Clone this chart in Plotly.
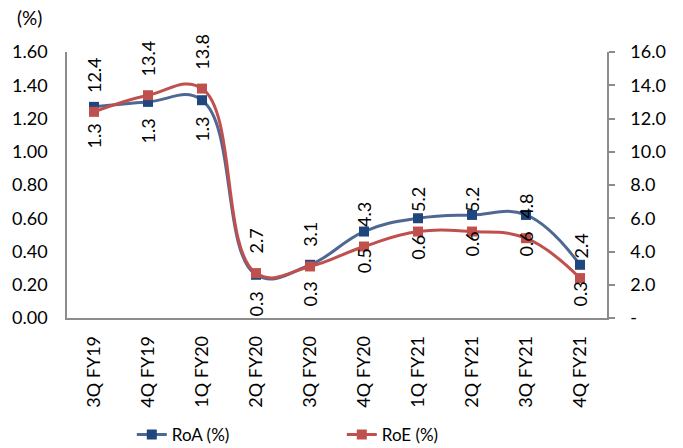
import plotly.graph_objects as go

quarters = ["3Q FY19", "4Q FY19", "1Q FY20", "2Q FY20", "3Q FY20",
            "4Q FY20", "1Q FY21", "2Q FY21", "3Q FY21", "4Q FY21"]
roa = [1.27, 1.30, 1.31, 0.26, 0.32, 0.52, 0.60, 0.62, 0.62, 0.32]
roe = [12.4, 13.4, 13.8, 2.7, 3.1, 4.3, 5.2, 5.2, 4.8, 2.4]

left_ticks = [0.0, 0.2, 0.4, 0.6, 0.8, 1.0, 1.2, 1.4, 1.6]
right_ticks = [0, 2, 4, 6, 8, 10, 12, 14, 16]
right_tick_text = ["-", "2.0", "4.0", "6.0", "8.0", "10.0", "12.0", "14.0", "16.0"]

FONT = "Lato"
LABEL_SIZE = 18
AXIS_GREY = "#8c8c8c"
ROA_LINE, ROA_MARK = "#4f6793", "#1f477d"
ROE_LINE, ROE_MARK = "#c0504d", "#c0504d"


def label_length(text, size=LABEL_SIZE):
    # rough rendered length of a numeric label set in Lato
    digits = sum(ch.isdigit() for ch in text)
    return size * (0.58 * digits + 0.24 * (len(text) - digits))


fig = go.Figure()
fig.add_trace(go.Scatter(
    x=quarters, y=roa, name="RoA (%)", mode="lines+markers",
    line=dict(color=ROA_LINE, width=3, shape="spline", smoothing=1.2),
    marker=dict(symbol="square", size=10, color=ROA_MARK),
    yaxis="y"))
fig.add_trace(go.Scatter(
    x=quarters, y=roe, name="RoE (%)", mode="lines+markers",
    line=dict(color=ROE_LINE, width=3, shape="spline", smoothing=1.2),
    marker=dict(symbol="square", size=10, color=ROE_MARK),
    yaxis="y2"))

annotations = []
for q, a, e in zip(quarters, roa, roe):
    a_txt, e_txt = f"{a:.1f}", f"{e:.1f}"
    # RoA labels sit below their points, RoE labels above
    annotations.append(dict(
        x=q, y=a, xref="x", yref="y", text=a_txt, textangle=-90,
        showarrow=False, yanchor="middle",
        yshift=-(17 + label_length(a_txt) / 2),
        font=dict(family=FONT, size=LABEL_SIZE, color="#000000")))
    annotations.append(dict(
        x=q, y=e, xref="x", yref="y2", text=e_txt, textangle=-90,
        showarrow=False, yanchor="middle",
        yshift=19 + label_length(e_txt) / 2,
        font=dict(family=FONT, size=LABEL_SIZE, color="#000000")))
annotations.append(dict(
    x=-52 / 540, y=1 + 34 / 266, xref="paper", yref="paper", text="(%)",
    showarrow=False, xanchor="left", yanchor="middle",
    font=dict(family=FONT, size=19, color="#000000")))

fig.update_layout(
    width=683, height=448, autosize=False,
    margin=dict(l=67, r=76, t=52, b=130, autoexpand=False),
    paper_bgcolor="white", plot_bgcolor="white",
    font=dict(family=FONT, size=17, color="#000000"),
    xaxis=dict(
        type="category", tickangle=-90, showgrid=False, automargin=False,
        showline=True, linecolor=AXIS_GREY, linewidth=1.5,
        ticks="outside", ticklen=9, tickcolor="rgba(0,0,0,0)",
        tickfont=dict(family=FONT, size=18), range=[-0.5, 9.5]),
    yaxis=dict(
        range=[0, 1.6], tickvals=left_ticks,
        ticktext=[f"{v:.2f}" for v in left_ticks], automargin=False,
        showgrid=False, zeroline=False,
        showline=True, linecolor=AXIS_GREY, linewidth=1.5,
        ticks="outside", ticklen=14, tickcolor="rgba(0,0,0,0)",
        tickfont=dict(family=FONT, size=18)),
    yaxis2=dict(
        range=[0, 16], tickvals=right_ticks, ticktext=right_tick_text,
        overlaying="y", side="right", showgrid=False, zeroline=False,
        automargin=False,
        showline=True, linecolor=AXIS_GREY, linewidth=1.5,
        ticks="outside", ticklen=6, tickcolor=AXIS_GREY, tickwidth=1.5,
        ticklabelstandoff=12,
        tickfont=dict(family=FONT, size=18)),
    legend=dict(
        orientation="h", x=0.12, y=-0.44, xanchor="left", yanchor="middle",
        entrywidth=165, entrywidthmode="pixels",
        font=dict(family=FONT, size=17), bgcolor="rgba(0,0,0,0)"),
    annotations=annotations,
    showlegend=True,
)

fig.write_html("out.html")
